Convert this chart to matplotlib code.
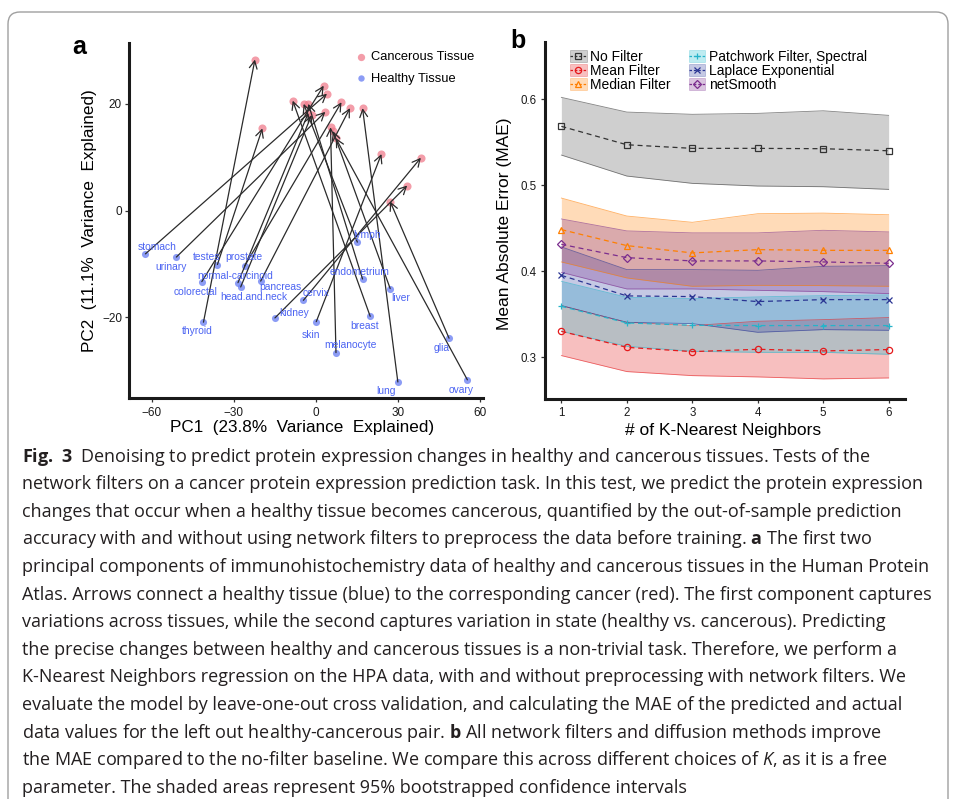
import matplotlib
matplotlib.use("Agg")
import matplotlib.pyplot as plt
from matplotlib.patches import FancyBboxPatch, Patch
from matplotlib.lines import Line2D
from matplotlib.transforms import IdentityTransform

plt.rcParams['font.family'] = ['Liberation Sans', 'DejaVu Sans']
plt.rcParams['mathtext.fontset'] = 'custom'
plt.rcParams['mathtext.rm'] = 'Open Sans'
plt.rcParams['mathtext.bf'] = 'Open Sans:bold'
plt.rcParams['mathtext.it'] = 'Open Sans:italic'

# ---- panel a: PCA of healthy -> cancerous tissue ----
tissues = ["stomach", "urinary", "testes", "prostate", "colorectal", "normal-carcinoid",
           "head.and.neck", "pancreas", "cervix", "kidney", "skin", "melanocyte",
           "breast", "lung", "ovary", "glia", "liver", "endometrium", "lymph", "thyroid"]
healthy_pc1 = [-62.3, -51.0, -36.0, -26.1, -41.7, -28.5, -27.5, -20.2, -4.6, -15.0,
               0.1, 7.3, 19.8, 29.9, 55.3, 48.6, 27.1, 17.0, 15.1, -41.1]
healthy_pc2 = [-8.1, -8.7, -10.1, -10.4, -13.3, -13.5, -14.3, -13.2, -16.8, -20.1,
               -20.8, -26.6, -19.8, -32.1, -31.7, -23.9, -14.6, -12.8, -5.9, -20.9]
cancer_pc1 = [4.0, 3.4, -19.6, 9.3, 2.8, -2.8, -1.6, 12.4, 38.3, 33.3,
              23.9, 5.3, -8.5, 17.0, 7.2, 27.1, 6.2, -2.8, -4.5, -22.3]
cancer_pc2 = [21.9, 18.5, 15.4, 20.3, 23.4, 18.3, 17.9, 19.2, 9.9, 4.7,
              10.6, 15.6, 20.6, 19.2, 13.6, 1.7, 14.9, 20.0, 20.0, 28.3]

# label offsets from the healthy point (pixels, x right / y down)
label_off = {"stomach": (11.7, -6.7), "urinary": (-5.3, 10), "testes": (-11.3, -7.3),
             "prostate": (-0.3, -9.3), "colorectal": (-6.7, 10), "normal-carcinoid": (-2.7, -6.7),
             "head.and.neck": (13, 10), "pancreas": (19.5, 5.5), "cervix": (13, -7),
             "kidney": (19.3, -5), "skin": (-5.3, 13.3), "melanocyte": (14.3, -7.3),
             "breast": (-6, 9.3), "lung": (-12, 9.3), "ovary": (-6.7, 9.7), "glia": (-7.3, 9.7),
             "liver": (10, 9.3), "endometrium": (-3, -7), "lymph": (10, -6.7), "thyroid": (-6, 9.3)}

# ---- panel b: MAE vs K ----
k_values = [1, 2, 3, 4, 5, 6]
methods = ["No Filter", "Mean Filter", "Median Filter",
           "Patchwork Filter, Spectral", "Laplace Exponential", "netSmooth"]
mae_mean = {
    "No Filter": [0.5686, 0.5472, 0.5430, 0.5430, 0.5426, 0.5402],
    "Mean Filter": [0.3302, 0.3116, 0.3066, 0.3093, 0.3074, 0.3090],
    "Median Filter": [0.4485, 0.4299, 0.4214, 0.4252, 0.4244, 0.4244],
    "Patchwork Filter, Spectral": [0.3593, 0.3400, 0.3372, 0.3369, 0.3369, 0.3369],
    "Laplace Exponential": [0.3953, 0.3714, 0.3706, 0.3648, 0.3671, 0.3671],
    "netSmooth": [0.4314, 0.4159, 0.4121, 0.4121, 0.4109, 0.4093],
}
mae_low = {
    "No Filter": [0.5352, 0.5108, 0.5023, 0.4992, 0.4984, 0.4953],
    "Mean Filter": [0.3020, 0.2834, 0.2787, 0.2772, 0.2749, 0.2760],
    "Median Filter": [0.4109, 0.3923, 0.3826, 0.3837, 0.3834, 0.3826],
    "Patchwork Filter, Spectral": [0.3302, 0.3128, 0.3070, 0.3058, 0.3058, 0.3035],
    "Laplace Exponential": [0.3601, 0.3407, 0.3392, 0.3291, 0.3322, 0.3314],
    "netSmooth": [0.3988, 0.3795, 0.3795, 0.3779, 0.3764, 0.3741],
}
mae_high = {
    "No Filter": [0.6023, 0.5852, 0.5826, 0.5837, 0.5867, 0.5814],
    "Mean Filter": [0.3601, 0.3407, 0.3369, 0.3419, 0.3438, 0.3462],
    "Median Filter": [0.4852, 0.4643, 0.4570, 0.4670, 0.4677, 0.4658],
    "Patchwork Filter, Spectral": [0.3884, 0.3698, 0.3683, 0.3702, 0.3717, 0.3726],
    "Laplace Exponential": [0.4284, 0.4020, 0.4020, 0.4012, 0.4058, 0.4066],
    "netSmooth": [0.4609, 0.4470, 0.4447, 0.4447, 0.4477, 0.4458],
}
line_colors = {"No Filter": "#333333", "Mean Filter": "#e41a1c", "Median Filter": "#ff7f00",
               "Patchwork Filter, Spectral": "#26b3c9", "Laplace Exponential": "#2a3593",
               "netSmooth": "#7b2d8e"}
fill_colors = {"No Filter": "#555555", "Mean Filter": "#e41a1c", "Median Filter": "#ff7f00",
               "Patchwork Filter, Spectral": "#17becf", "Laplace Exponential": "#3040a0",
               "netSmooth": "#7b2d8e"}
markers = {"No Filter": "s", "Mean Filter": "o", "Median Filter": "^",
           "Patchwork Filter, Spectral": "+", "Laplace Exponential": "x", "netSmooth": "D"}

caption = [
    r"$\mathbf{Fig.\ 3}$  Denoising to predict protein expression changes in healthy and cancerous tissues. Tests of the",
    "network filters on a cancer protein expression prediction task. In this test, we predict the protein expression",
    "changes that occur when a healthy tissue becomes cancerous, quantified by the out-of-sample prediction",
    r"accuracy with and without using network filters to preprocess the data before training. $\mathbf{a}$ The first two",
    "principal components of immunohistochemistry data of healthy and cancerous tissues in the Human Protein",
    "Atlas. Arrows connect a healthy tissue (blue) to the corresponding cancer (red). The first component captures",
    "variations across tissues, while the second captures variation in state (healthy vs. cancerous). Predicting",
    "the precise changes between healthy and cancerous tissues is a non-trivial task. Therefore, we perform a",
    "K-Nearest Neighbors regression on the HPA data, with and without preprocessing with network filters. We",
    "evaluate the model by leave-one-out cross validation, and calculating the MAE of the predicted and actual",
    r"data values for the left out healthy-cancerous pair. $\mathbf{b}$ All network filters and diffusion methods improve",
    r"the MAE compared to the no-filter baseline. We compare this across different choices of $\mathit{K}$, as it is a free",
    "parameter. The shaded areas represent 95% bootstrapped confidence intervals",
]

W, H = 955, 799
fig = plt.figure(figsize=(W / 100, H / 100), dpi=100)

# rounded frame around the figure
frame = FancyBboxPatch((8, -20), 940, H - 12 + 20, boxstyle="round,pad=0,rounding_size=12",
                       transform=IdentityTransform(), facecolor="none", edgecolor="#a0a0a0",
                       linewidth=1.0)
fig.patches.append(frame)


def style_axes(ax):
    for s in ["top", "right"]:
        ax.spines[s].set_visible(False)
    for s in ["left", "bottom"]:
        ax.spines[s].set_linewidth(2.2)
        ax.spines[s].set_color("#1a1a1a")
    ax.tick_params(length=3, width=0.9, color="#333333", labelcolor="#1a1a1a")


# ---- panel a ----
ax1 = fig.add_axes([129 / W, 1 - 398 / H, (483 - 129) / W, (398 - 43) / H])
style_axes(ax1)
ax1.scatter(healthy_pc1, healthy_pc2, s=26, color="#6f84f3", alpha=0.8, lw=0, zorder=2,
            label="Healthy Tissue")
ax1.scatter(cancer_pc1, cancer_pc2, s=34, color="#f07c8c", alpha=0.75, lw=0, zorder=2,
            label="Cancerous Tissue")
for i in range(len(tissues)):
    ax1.annotate("", xy=(cancer_pc1[i], cancer_pc2[i]), xytext=(healthy_pc1[i], healthy_pc2[i]),
                 arrowprops=dict(arrowstyle="->,head_length=0.55,head_width=0.28",
                                 color="#2b2b2b", lw=0.9, shrinkA=0, shrinkB=0), zorder=3)
    dx, dy = label_off[tissues[i]]
    ax1.annotate(tissues[i], xy=(healthy_pc1[i], healthy_pc2[i]),
                 xytext=(dx * 0.72, -dy * 0.72), textcoords="offset points",
                 ha="center", va="center", fontsize=7.4, color="#4b63f2", zorder=4)
ax1.set_xlim(-68.3, 61)
ax1.set_ylim(-35.1, 31.4)
ax1.set_xticks([-60, -30, 0, 30, 60])
ax1.set_yticks([-20, 0, 20])
ax1.tick_params(axis="x", labelsize=8.5, pad=3.5)
ax1.tick_params(axis="y", labelsize=8.5, pad=2)
ax1.set_xlabel("PC1  (23.8%  Variance  Explained)", fontsize=12.3)
ax1.set_ylabel("PC2  (11.1%  Variance  Explained)", fontsize=12.3)
ax1.xaxis.set_label_coords(0.49, -0.062)
ax1.yaxis.set_label_coords(-0.09, 0.5)
h, l = ax1.get_legend_handles_labels()
ax1.legend(h[::-1], l[::-1], loc="center left", bbox_to_anchor=((356 - 129) / 354, 1 - (68 - 43) / 355),
           frameon=False, fontsize=9.3, borderpad=0, borderaxespad=0, handlelength=0.8,
           handletextpad=0.35, labelspacing=0.75, markerscale=0.9)
fig.text(79.5 / W, 1 - 46.5 / H, "a", fontsize=18, fontweight="bold", ha="center", va="center")

# ---- panel b ----
ax2 = fig.add_axes([545 / W, 1 - 399 / H, (905 - 545) / W, (399 - 42) / H])
style_axes(ax2)
handles = []
for m in methods:
    ax2.fill_between(k_values, mae_low[m], mae_high[m], color=fill_colors[m], alpha=0.28, lw=0, zorder=1)
    ax2.plot(k_values, mae_low[m], color=line_colors[m], lw=0.6, alpha=0.6, zorder=1.5)
    ax2.plot(k_values, mae_high[m], color=line_colors[m], lw=0.6, alpha=0.6, zorder=1.5)
for m in methods:
    mfc = "none" if markers[m] in ("s", "o", "^", "D") else line_colors[m]
    ax2.plot(k_values, mae_mean[m], color=line_colors[m], lw=0.9, ls=(0, (4, 3)), marker=markers[m],
             ms=4.5 if markers[m] != "D" else 4, mfc=mfc, mec=line_colors[m], mew=0.9, zorder=3)
    handles.append((Patch(facecolor=fill_colors[m], alpha=0.28, edgecolor=line_colors[m], lw=0.6),
                    Line2D([], [], color=line_colors[m], lw=0.9, ls=(0, (2, 1.5)), marker=markers[m],
                           ms=4.5 if markers[m] != "D" else 4, mfc=mfc, mec=line_colors[m], mew=0.9)))
ax2.set_xlim(0.75, 6.25)
ax2.set_ylim(0.2515, 0.6667)
ax2.set_xticks(k_values)
ax2.set_yticks([0.3, 0.4, 0.5, 0.6])
ax2.tick_params(axis="both", labelsize=8.3, pad=3)
ax2.set_xlabel("# of K-Nearest Neighbors", fontsize=12.5)
ax2.set_ylabel("Mean Absolute Error (MAE)", fontsize=12.5)
ax2.xaxis.set_label_coords(0.495, -0.067)
ax2.yaxis.set_label_coords(-0.092, 0.49)
ax2.legend(handles, methods, ncol=2, loc="upper left",
           bbox_to_anchor=((570 - 545) / 360, 1 - (50 - 42) / 357), frameon=False, fontsize=10,
           borderpad=0, borderaxespad=0, handlelength=1.2, handleheight=0.9, handletextpad=0.25,
           labelspacing=0.0, columnspacing=1.3)
fig.text(518 / W, 1 - 41 / H, "b", fontsize=18, fontweight="bold", ha="center", va="center")

# ---- caption ----
for i, line in enumerate(caption):
    fig.text(22 / W, 1 - (461.7 + i * 27.6) / H, line, fontsize=12.95, family="Open Sans",
             color="#231f20", ha="left", va="baseline")

fig.savefig("out.png", dpi=100)
